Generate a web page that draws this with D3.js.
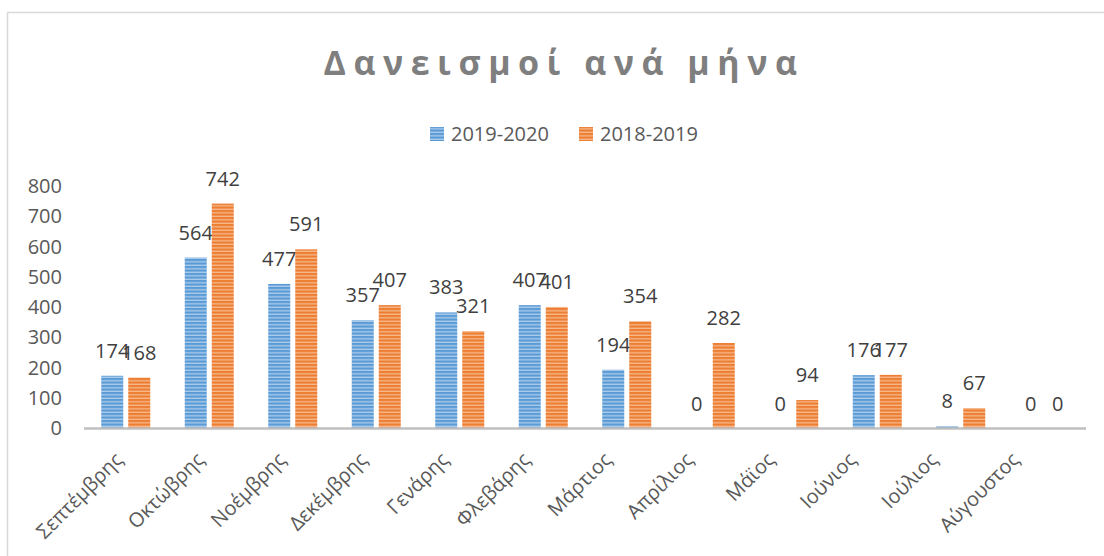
<!DOCTYPE html>
<html>
<head>
<meta charset="utf-8">
<script src="https://cdn.jsdelivr.net/npm/d3@7"></script>
<style>
  body { margin: 0; background: #fff; }
  svg text { font-family: "Open Sans", "Noto Sans", sans-serif; }
</style>
</head>
<body>
<div id="canvas"></div>
<script>
"use strict";

/* Data */
let months = ["Σεπτέμβρης", "Οκτώβρης", "Νοέμβρης", "Δεκέμβρης", "Γενάρης", "Φλεβάρης",
  "Μάρτιος", "Απρίλιος", "Μάϊος", "Ιούνιος", "Ιούλιος", "Αύγουστος"];
let seriesNames = ["2019-2020", "2018-2019"];
let loans2019 = [174, 564, 477, 357, 383, 407, 194, 0, 0, 176, 8, 0];
let loans2018 = [168, 742, 591, 407, 321, 401, 354, 282, 94, 177, 67, 0];
let yTicks = [0, 100, 200, 300, 400, 500, 600, 700, 800];

/* Drawing config */
let svgWidth = 1104;
let svgHeight = 556;
let colors = ["#5b9bd5", "#ed7d31"];
let stripeColors = ["#b4d1ee", "#f8bf96"];

let svg = d3.select("#canvas")
  .append("svg")
  .attr("width", svgWidth)
  .attr("height", svgHeight);

/* striped fills, like the excel "narrow horizontal" pattern */
let defs = svg.append("defs");
for (let i = 0; i < 2; i = i + 1) {
  let pat = defs.append("pattern")
    .attr("id", "stripe" + i)
    .attr("patternUnits", "userSpaceOnUse")
    .attr("width", 8)
    .attr("height", 3.5);
  pat.append("rect")
    .attr("width", 8).attr("height", 3.5)
    .attr("fill", colors[i]);
  pat.append("rect")
    .attr("y", 2.2)
    .attr("width", 8).attr("height", 1.2)
    .attr("fill", stripeColors[i]);
}

/* chart border (only left and top show) */
svg.append("rect")
  .attr("x", 7.5)
  .attr("y", 12.5)
  .attr("width", 1200)
  .attr("height", 700)
  .attr("fill", "none")
  .attr("stroke", "#d9d9d9")
  .attr("stroke-width", 1.5);

/* Title */
svg.append("text")
  .attr("x", 564)
  .attr("y", 75)
  .attr("text-anchor", "middle")
  .attr("font-size", "34px")
  .attr("font-weight", "bold")
  .attr("letter-spacing", "7.5px")
  .attr("fill", "#7f7f7f")
  .text("Δανεισμοί ανά μήνα");

/* Legend */
let legendX = [430, 579];
for (let i = 0; i < 2; i = i + 1) {
  svg.append("rect")
    .attr("x", legendX[i])
    .attr("y", 127)
    .attr("width", 14)
    .attr("height", 14)
    .attr("fill", "url(#stripe" + i + ")");
  svg.append("text")
    .attr("x", legendX[i] + 21)
    .attr("y", 141)
    .attr("font-size", "20px")
    .attr("fill", "#595959")
    .text(seriesNames[i]);
}

/* Scales */
let xScale = d3.scaleBand()
  .domain(months)
  .range([84, 1086]);

/* month labels sit a little tighter than the bars, as in the original */
let labelScale = d3.scaleBand()
  .domain(months)
  .range([84, 1062]);

let yScale = d3.scaleLinear()
  .domain([0, 800])
  .range([428.5, 186]);

let barWidth = 22;
let barGap = 5;

/* Y axis, labels only */
let yAxis = svg.append("g")
  .attr("transform", "translate(62,0)")
  .call(d3.axisLeft(yScale).tickValues(yTicks).tickSize(0).tickPadding(0));
yAxis.select(".domain").remove();
yAxis.selectAll("text")
  .attr("font-size", "20px")
  .attr("fill", "#595959")
  .style("font-family", "'Open Sans', sans-serif");

/* Bars */
let seriesData = [loans2019, loans2018];
for (let s = 0; s < 2; s = s + 1) {
  let rows = months.map(function (m, i) { return { month: m, value: seriesData[s][i] }; });
  let offset = s === 0 ? -barGap / 2 - barWidth : barGap / 2;

  svg.selectAll(".bar" + s)
    .data(rows)
    .enter()
    .append("rect")
    .attr("class", "bar" + s)
    .attr("x", function (d) { return xScale(d.month) + xScale.bandwidth() / 2 + offset; })
    .attr("y", function (d) { return yScale(d.value); })
    .attr("width", barWidth)
    .attr("height", function (d) { return yScale(0) - yScale(d.value); })
    .attr("fill", "url(#stripe" + s + ")");

  svg.selectAll(".label" + s)
    .data(rows)
    .enter()
    .append("text")
    .attr("class", "label" + s)
    .attr("x", function (d) { return xScale(d.month) + xScale.bandwidth() / 2 + offset + barWidth / 2; })
    .attr("y", function (d) { return yScale(d.value) - 18; })
    .attr("text-anchor", "middle")
    .attr("font-size", "20px")
    .attr("fill", "#404040")
    .text(function (d) { return String(d.value); });
}

/* X axis line */
svg.append("line")
  .attr("x1", 84)
  .attr("x2", 1086)
  .attr("y1", yScale(0))
  .attr("y2", yScale(0))
  .attr("stroke", "#bfbfbf")
  .attr("stroke-width", 2.5);

/* Month labels, rotated */
svg.selectAll(".month")
  .data(months)
  .enter()
  .append("text")
  .attr("class", "month")
  .attr("transform", function (d) {
    return "translate(" + (labelScale(d) + labelScale.bandwidth() / 2 - 1) + ",461) rotate(-45)";
  })
  .attr("text-anchor", "end")
  .attr("font-size", "20px")
  .attr("fill", "#595959")
  .text(function (d) { return d; });
</script>
</body>
</html>
